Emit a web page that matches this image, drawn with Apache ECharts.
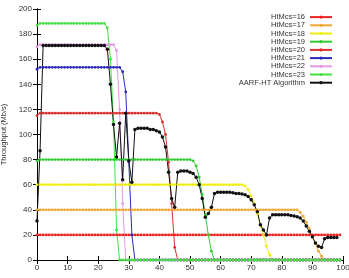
<!DOCTYPE html>
<html>

<head>
  <meta charset="utf-8">
  <title>Throughput</title>
  <script src="https://cdn.jsdelivr.net/npm/echarts@6/dist/echarts.min.js"></script>
  <style>
    html, body { margin: 0; padding: 0; background: #fff; }
    #chart { width: 349px; height: 278px; }
  </style>
</head>

<body>
  <div id="chart"></div>
  <script type="text/javascript">
    // 数据 (x = 0..99 s)
    var names = ['HtMcs=16', 'HtMcs=17', 'HtMcs=18', 'HtMcs=19', 'HtMcs=20', 'HtMcs=21', 'HtMcs=22', 'HtMcs=23', 'AARF-HT Algorithm'];
    var colors = ['#ee2222', '#efa833', '#eeee10', '#33cc33', '#d93030', '#2a2ab8', '#e59ae5', '#44e044', '#111111'];

    var mcs16 = [20, 20, 20, 20, 20, 20, 20, 20, 20, 20, 20, 20, 20, 20, 20, 20, 20, 20, 20, 20,
      20, 20, 20, 20, 20, 20, 20, 20, 20, 20, 20, 20, 20, 20, 20, 20, 20, 20, 20, 20,
      20, 20, 20, 20, 20, 20, 20, 20, 20, 20, 20, 20, 20, 20, 20, 20, 20, 20, 20, 20,
      20, 20, 20, 20, 20, 20, 20, 20, 20, 20, 20, 20, 20, 20, 20, 20, 20, 20, 20, 20,
      20, 20, 20, 20, 20, 20, 20, 20, 20, 20, 20, 20, 20, 20, 20, 20, 20, 20, 20, 20];
    var mcs17 = [40, 40, 40, 40, 40, 40, 40, 40, 40, 40, 40, 40, 40, 40, 40, 40, 40, 40, 40, 40,
      40, 40, 40, 40, 40, 40, 40, 40, 40, 40, 40, 40, 40, 40, 40, 40, 40, 40, 40, 40,
      40, 40, 40, 40, 40, 40, 40, 40, 40, 40, 40, 40, 40, 40, 40, 40, 40, 40, 40, 40,
      40, 40, 40, 40, 40, 40, 40, 40, 40, 40, 40, 40, 40, 40, 40, 40, 40, 40, 40, 40,
      40, 40, 40, 40, 40, 40, 38, 35, 30, 25, 18, 13, 7, 3, 0, 0, 0, 0, 0, 0];
    var mcs18 = [60, 60, 60, 60, 60, 60, 60, 60, 60, 60, 60, 60, 60, 60, 60, 60, 60, 60, 60, 60,
      60, 60, 60, 60, 60, 60, 60, 60, 60, 60, 60, 60, 60, 60, 60, 60, 60, 60, 60, 60,
      60, 60, 60, 60, 60, 60, 60, 60, 60, 60, 60, 60, 60, 60, 60, 60, 60, 60, 60, 60,
      60, 60, 60, 60, 60, 60, 60, 60, 59, 56, 51, 45, 37, 28, 20, 11, 4, 0, 0, 0,
      0, 0, 0, 0, 0, 0, 0, 0, 0, 0, 0, 0, 0, 0, 0, 0, 0, 0, 0, 0];
    var mcs19 = [79, 80, 80, 80, 80, 80, 80, 80, 80, 80, 80, 80, 80, 80, 80, 80, 80, 80, 80, 80,
      80, 80, 80, 80, 80, 80, 80, 80, 80, 80, 80, 80, 80, 80, 80, 80, 80, 80, 80, 80,
      80, 80, 80, 80, 80, 80, 80, 80, 80, 80, 80, 79, 75, 66, 52, 36, 20, 7, 0, 0,
      0, 0, 0, 0, 0, 0, 0, 0, 0, 0, 0, 0, 0, 0, 0, 0, 0, 0, 0, 0,
      0, 0, 0, 0, 0, 0, 0, 0, 0, 0, 0, 0, 0, 0, 0, 0, 0, 0, 0, 0];
    var mcs20 = [115, 117, 117, 117, 117, 117, 117, 117, 117, 117, 117, 117, 117, 117, 117, 117, 117, 117, 117, 117,
      117, 117, 117, 117, 117, 117, 117, 117, 117, 117, 117, 117, 117, 117, 117, 117, 117, 117, 117, 117,
      116, 110, 100, 78, 45, 10, 0, 0, 0, 0, 0, 0, 0, 0, 0, 0, 0, 0, 0, 0,
      0, 0, 0, 0, 0, 0, 0, 0, 0, 0, 0, 0, 0, 0, 0, 0, 0, 0, 0, 0,
      0, 0, 0, 0, 0, 0, 0, 0, 0, 0, 0, 0, 0, 0, 0, 0, 0, 0, 0, 0];
    var mcs21 = [152, 153.5, 153.5, 153.5, 153.5, 153.5, 153.5, 153.5, 153.5, 153.5, 153.5, 153.5, 153.5, 153.5, 153.5, 153.5, 153.5, 153.5, 153.5, 153.5,
      153.5, 153.5, 153.5, 153.5, 153.5, 153.5, 153.5, 153.5, 150, 134, 78, 20, 0, 0, 0, 0, 0, 0, 0, 0,
      0, 0, 0, 0, 0, 0, 0, 0, 0, 0, 0, 0, 0, 0, 0, 0, 0, 0, 0, 0,
      0, 0, 0, 0, 0, 0, 0, 0, 0, 0, 0, 0, 0, 0, 0, 0, 0, 0, 0, 0,
      0, 0, 0, 0, 0, 0, 0, 0, 0, 0, 0, 0, 0, 0, 0, 0, 0, 0, 0, 0];
    var mcs22 = [170, 171.5, 171.5, 171.5, 171.5, 171.5, 171.5, 171.5, 171.5, 171.5, 171.5, 171.5, 171.5, 171.5, 171.5, 171.5, 171.5, 171.5, 171.5, 171.5,
      171.5, 171.5, 171.5, 171.5, 171.5, 171.5, 167, 120, 45, 0, 0, 0, 0, 0, 0, 0, 0, 0, 0, 0,
      0, 0, 0, 0, 0, 0, 0, 0, 0, 0, 0, 0, 0, 0, 0, 0, 0, 0, 0, 0,
      0, 0, 0, 0, 0, 0, 0, 0, 0, 0, 0, 0, 0, 0, 0, 0, 0, 0, 0, 0,
      0, 0, 0, 0, 0, 0, 0, 0, 0, 0, 0, 0, 0, 0, 0, 0, 0, 0, 0, 0];
    var mcs23 = [187, 188.5, 188.5, 188.5, 188.5, 188.5, 188.5, 188.5, 188.5, 188.5, 188.5, 188.5, 188.5, 188.5, 188.5, 188.5, 188.5, 188.5, 188.5, 188.5,
      188.5, 188.5, 188.5, 185, 160, 110, 24, 0, 0, 0, 0, 0, 0, 0, 0, 0, 0, 0, 0, 0,
      0, 0, 0, 0, 0, 0, 0, 0, 0, 0, 0, 0, 0, 0, 0, 0, 0, 0, 0, 0,
      0, 0, 0, 0, 0, 0, 0, 0, 0, 0, 0, 0, 0, 0, 0, 0, 0, 0, 0, 0,
      0, 0, 0, 0, 0, 0, 0, 0, 0, 0, 0, 0, 0, 0, 0, 0, 0, 0, 0, 0];
    var aarf = [31, 87, 171, 171, 171, 171, 171, 171, 171, 171, 171, 171, 171, 171, 171, 171, 171, 171, 171, 171,
      171, 171, 171, 168, 140, 108, 82, 109, 64, 117, 79, 62, 104, 105, 105, 105, 105, 104, 104, 103,
      102, 98, 90, 70, 49, 42, 70, 71, 71, 71, 70, 69, 66, 60, 49, 34, 37, 42, 53, 54,
      54, 54, 54, 54, 53.5, 53, 53, 52.5, 52, 50.5, 48, 44, 38.5, 28, 24, 20, 33.5, 36, 36, 36,
      36, 36, 36, 35.5, 35, 34.5, 33.5, 31, 27, 23, 18.5, 13.5, 11, 10, 17, 18, 18, 18, 18];

    var xTicks = [0, 10, 20, 30, 40, 50, 60, 70, 80, 90, 100];
    var yTicks = [0, 20, 40, 60, 80, 100, 120, 140, 160, 180, 200];

    var allData = [mcs16, mcs17, mcs18, mcs19, mcs20, mcs21, mcs22, mcs23, aarf];

    function toPairs(arr) {
      var out = [];
      for (var i = 0; i < arr.length; i++) {
        out.push([i, arr[i]]);
      }
      return out;
    }

    var series = [];
    for (var k = 0; k < allData.length; k++) {
      var isAarf = (k == allData.length - 1);
      series.push({
        name: names[k],
        type: 'line',
        data: toPairs(allData[k]),
        symbol: 'circle',
        symbolSize: isAarf ? 3.5 : 2.8,
        showSymbol: true,
        animation: false,
        lineStyle: { width: 1, color: colors[k] },
        itemStyle: { color: colors[k] }
      });
    }

    var tickStyle = { show: true, inside: true, length: 4, lineStyle: { color: '#000', width: 1 } };
    var fontFam = 'Liberation Sans';

    var option = {
      backgroundColor: '#fff',
      animation: false,
      grid: { left: 37, right: 6, top: 9, bottom: 18, outerBoundsMode: 'none', containLabel: false },
      legend: {
        data: names,
        orient: 'vertical',
        right: 11,
        top: 8,
        align: 'right',
        itemWidth: 22,
        itemHeight: 4,
        itemGap: 0,
        itemStyle: { borderWidth: 0 },
        textStyle: { fontSize: 7.5, lineHeight: 8.2, color: '#333', fontFamily: fontFam }
      },
      xAxis: [{
        type: 'value',
        min: xTicks[0],
        max: xTicks[xTicks.length - 1],
        interval: 10,
        name: 'Time (s)',
        nameLocation: 'middle',
        nameGap: 20,
        nameTextStyle: { fontSize: 8, color: '#333', fontFamily: fontFam },
        axisLine: { show: true, lineStyle: { color: '#000', width: 1 } },
        axisTick: tickStyle,
        axisLabel: { fontSize: 8, color: '#333', margin: 4, fontFamily: fontFam },
        splitLine: { show: false }
      }, {
        type: 'value',
        position: 'top',
        min: xTicks[0],
        max: xTicks[xTicks.length - 1],
        interval: 10,
        axisLine: { show: true, lineStyle: { color: '#000', width: 1 } },
        axisTick: tickStyle,
        axisLabel: { show: false },
        splitLine: { show: false }
      }],
      yAxis: [{
        type: 'value',
        min: yTicks[0],
        max: yTicks[yTicks.length - 1],
        interval: 20,
        name: 'Throughput (Mb/s)',
        nameLocation: 'middle',
        nameGap: 24,
        nameTextStyle: { fontSize: 7.5, color: '#333', fontFamily: fontFam },
        axisLine: { show: true, lineStyle: { color: '#000', width: 1 } },
        axisTick: tickStyle,
        axisLabel: { fontSize: 8, color: '#333', margin: 5, fontFamily: fontFam },
        splitLine: { show: false }
      }, {
        type: 'value',
        position: 'right',
        min: yTicks[0],
        max: yTicks[yTicks.length - 1],
        interval: 20,
        axisLine: { show: true, lineStyle: { color: '#000', width: 1 } },
        axisTick: tickStyle,
        axisLabel: { show: false },
        splitLine: { show: false }
      }],
      series: series
    };

    var myChart = echarts.init(document.getElementById('chart'), null, { renderer: 'canvas' });
    myChart.setOption(option);
  </script>
</body>

</html>
